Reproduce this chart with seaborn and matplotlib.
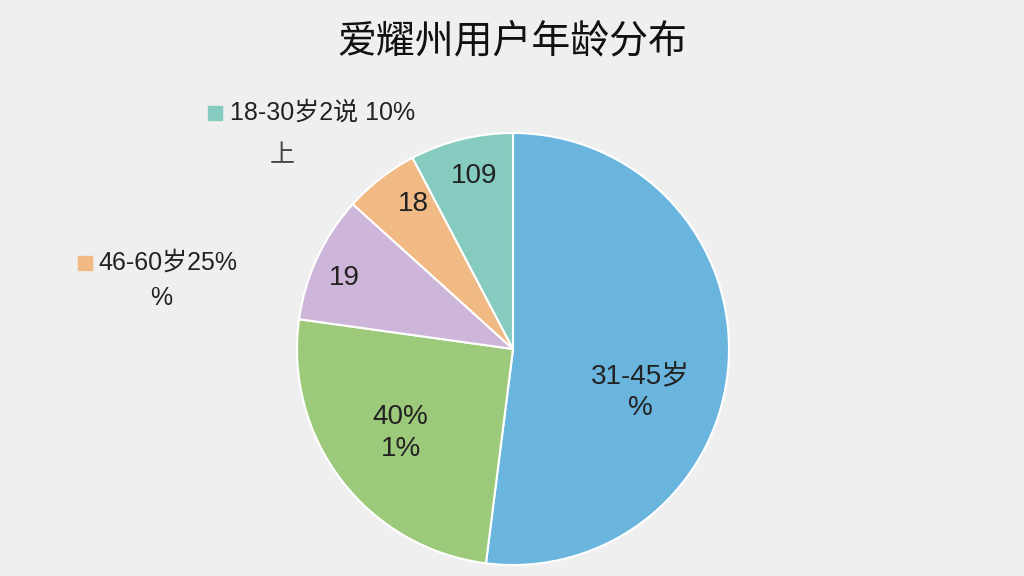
import matplotlib
matplotlib.use("Agg")
import matplotlib.pyplot as plt
import seaborn as sns

sns.set_theme(style="white")
plt.rcParams['font.family'] = ['Liberation Sans', 'Noto Sans CJK SC', 'DejaVu Sans']

shares = [52.0, 25.2, 9.5, 5.6, 7.7]
colors = ["#69b5de", "#9dc97b", "#cdb6d9", "#f1b983", "#86cbbf"]
inner_labels = ["31-45岁\n%", "40%\n1%", "19", "18", "109"]
label_pos = [(0.59, -0.20), (-0.52, -0.39), (-0.78, 0.33), (-0.46, 0.67), (-0.18, 0.80)]
title = "爱耀州用户年龄分布"

fig = plt.figure(figsize=(10.24, 5.76), dpi=100, facecolor="#efefef")
R = 216
cx, cy = 513, 349
ax = fig.add_axes([(cx - R) / 1024, 1 - (cy + R) / 576, 2 * R / 1024, 2 * R / 576])
ax.set_facecolor("#efefef")
ax.pie(shares, colors=colors, startangle=90, counterclock=False,
       wedgeprops=dict(edgecolor="white", linewidth=1.5))
ax.set_xlim(-1, 1); ax.set_ylim(-1, 1)
for t, (x, y) in zip(inner_labels, label_pos):
    ax.text(x, y, t, ha="center", va="center", fontsize=20, color="#222222", linespacing=1.3)

fig.text(0.5, 0.927, title, ha="center", va="center", fontsize=28, color="#111111")

# legend-like annotations
fig.patches.append(plt.Rectangle((208/1024, 1-120/576), 14/1024, 14/576,
                                 transform=fig.transFigure, color=colors[4]))
fig.text(230/1024, 1-113/576, "18-30岁2说 10%", fontsize=18, va="center", color="#222222")
fig.text(270/1024, 1-155/576, "上", fontsize=18, va="center", color="#444444")
fig.patches.append(plt.Rectangle((78/1024, 1-270/576), 14/1024, 14/576,
                                 transform=fig.transFigure, color=colors[3]))
fig.text(98/1024, 1-263/576, "46-60岁25%", fontsize=18, va="center", color="#222222")
fig.text(150/1024, 1-298/576, "%", fontsize=18, va="center", color="#222222")

fig.savefig("out.png", dpi=100, facecolor=fig.get_facecolor())
